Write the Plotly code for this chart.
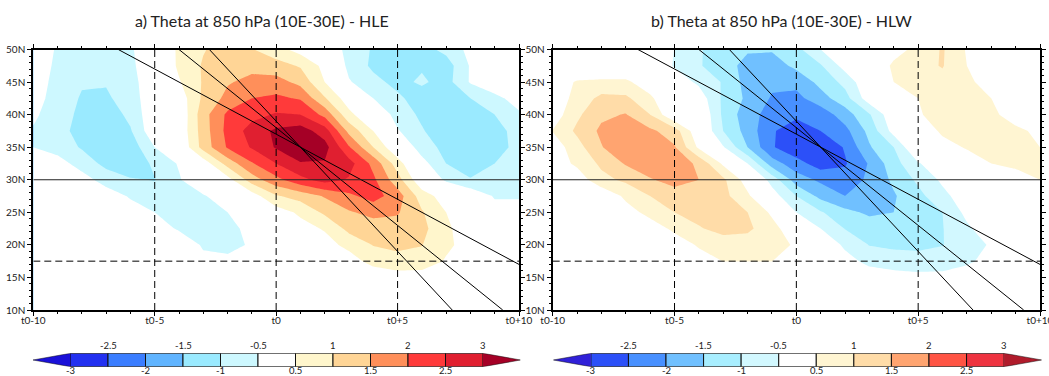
import plotly.graph_objects as go

W, H = 1049, 376
days = list(range(-10, 11))
lats = [10, 12.5, 15, 17.5, 20, 22.5, 25, 27.5, 30, 32.5, 35, 37.5, 40, 42.5, 45, 47.5, 50]
x_ticks = [-10, -5, 0, 5, 10]
x_tick_text = ["t0-10", "t0-5", "t0", "t0+5", "t0+10"]
y_ticks = [10, 15, 20, 25, 30, 35, 40, 45, 50]
y_tick_text = ["10N", "15N", "20N", "25N", "30N", "35N", "40N", "45N", "50N"]

# one row per latitude (south to north), one value per day from t0-10 to t0+10
hle_theta = [
 [0]*21,
 [0]*21,
 [0,0,0,0,0,0,0,0,0,0,0,0,0,0,.1,.25,.25,.1,0,0,0],
 [0,0,0,0,0,0,-.1,-.4,-.3,-.1,0,0,0,.25,.7,.85,.8,.45,.15,0,0],
 [0,0,0,0,0,0,-.2,-.55,-.75,-.4,-.05,.1,.3,.65,1.02,1.1,1.02,.6,.3,.05,0],
 [0,0,0,0,0,-.3,-.55,-.7,-.7,-.3,0,.3,.55,1.15,1.25,1.3,1.15,.6,.2,0,-.05],
 [0,0,0,-.1,-.3,-.5,-.7,-.65,-.5,-.1,.25,.6,1.1,1.45,1.65,1.55,1.05,.5,.1,-.3,-.3],
 [0,0,-.05,-.25,-.55,-.8,-.85,-.55,-.2,.25,.95,1.2,1.55,1.9,2.2,1.75,.75,.25,-.1,-.55,-.55],
 [0,-.05,-.3,-.7,-.95,-1.02,-.55,-.05,.3,1.25,1.85,2.35,2.7,2.45,2.1,1.2,.1,-.6,-.95,-.85,-.65],
 [-.1,-.3,-.7,-1.15,-1.35,-.9,-.45,.2,1.2,1.95,2.5,2.95,2.95,2.7,1.85,.75,-.3,-1.0,-1.35,-1.0,-.75],
 [-.5,-.7,-1.05,-1.3,-1.3,-.5,0,1.2,2.05,2.55,3.05,3.5,3.2,2.05,1.0,.05,-.75,-1.15,-1.45,-1.2,-.85],
 [-.55,-.85,-1.15,-1.35,-1.05,-.1,.1,1.25,2.15,2.7,3.1,3.25,2.75,1.35,.5,-.45,-.95,-1.35,-1.45,-1.15,-.85],
 [-.4,-.8,-1.1,-1.3,-.87,-.1,.05,1.3,2.1,2.35,2.55,2.5,1.85,.65,0,-.7,-1.1,-1.4,-1.45,-1.0,-.55],
 [-.3,-.7,-1.05,-1.1,-.7,-.2,.2,1.1,1.65,2.0,2.1,1.95,1.05,.2,-.5,-.9,-1.25,-1.4,-1.0,-.6,-.35],
 [-.25,-.65,-.95,-.95,-.65,-.2,.45,1.05,1.45,1.65,1.7,1.35,.5,-.45,-.85,-1.15,-.92,-1.2,-.45,-.25,-.1],
 [-.2,-.6,-.75,-.8,-.6,-.15,.6,1.05,1.3,1.35,1.2,.95,.35,-.65,-1.1,-1.25,-1.06,-1.25,-.45,-.25,-.1],
 [-.2,-.55,-.7,-.75,-.55,-.2,.62,.97,1.2,1.03,.7,.3,0,-.7,-1.05,-1.2,-1.2,-.85,-.35,-.2,-.1],
]
hlw_theta = [
 [0]*21,
 [0]*21,
 [0,0,0,0,0,0,0,.15,.15,.1,0,0,0,-.2,-.3,-.35,-.35,-.2,0,0,0],
 [0,0,0,0,0,.1,.3,.51,.51,.51,.1,0,-.3,-.65,-.75,-.8,-.75,-.6,-.3,0,0],
 [0,0,0,0,0,.25,.55,.7,.75,.65,.45,-.05,-.6,-1.02,-1.1,-1.12,-1.02,-.7,-.45,-.1,0],
 [0,0,0,0,.25,.6,.95,1.2,1.1,.7,.1,-.5,-1.02,-1.2,-1.3,-1.3,-1.02,-.6,-.15,0,0],
 [0,0,0,.3,.65,1.0,1.2,1.2,1.0,.4,-.5,-.95,-1.35,-1.6,-1.5,-1.25,-1.0,-.35,-.1,0,0],
 [0,0,.1,.6,1.0,1.25,1.35,1.15,.6,-.25,-1.0,-1.65,-2.0,-1.85,-1.55,-1.15,-.65,-.2,-.05,.05,.1],
 [0,.2,.85,1.1,1.45,1.7,1.5,1.1,.25,-.7,-1.75,-2.1,-2.3,-1.9,-1.4,-.9,-.4,-.1,.1,.3,.5],
 [.2,.6,1.1,1.55,1.85,1.8,1.4,.4,-.5,-1.75,-2.3,-2.75,-2.55,-1.95,-1.2,-.55,-.1,.2,.5,.6,.65],
 [.2,.8,1.47,1.9,1.75,1.55,.4,-.45,-1.5,-2.45,-2.85,-2.95,-2.45,-1.55,-1.0,.1,.3,.55,.7,.7,.5],
 [.52,1.1,1.6,1.75,1.6,1.25,.1,-1.0,-1.7,-2.45,-2.75,-2.5,-2.15,-1.35,-.3,.1,.6,.75,.7,.6,.4],
 [.2,.9,1.4,1.53,1.0,0,.05,-1.1,-1.8,-2.2,-2.4,-2.3,-1.75,-1.05,-.1,.45,.7,.75,.6,.3,.2],
 [.2,.65,1.15,1.1,.6,-.05,-.2,-1.1,-1.6,-2.05,-2.15,-1.7,-1.2,-.2,.05,.5,.7,.85,.5,.25,.1],
 [.2,.55,.6,.6,.2,-.2,-.6,-1.05,-1.7,-1.9,-1.85,-1.35,-.85,-.05,.5,.7,.85,.6,.3,.15,.05],
 [0,0,0,0,0,-.55,-.95,-1.3,-1.65,-1.75,-1.38,-1.05,-.3,0,.6,.85,1.03,.5,.25,.1,.05],
 [0,0,0,0,0,-.51,-.95,-1.25,-1.45,-1.45,-1.15,-.5,-.15,.05,.3,.65,1.05,.45,.2,.1,.05],
]

# trough lines: latitude falls from 50N towards 10N as time advances
line_2deg_t = [-6.5, 10]
line_2deg_lat = [50, 17]
line_3deg_t = [-4, 9.33]
line_3deg_lat = [50, 10]
line_4deg_t = [-2.75, 7.25]
line_4deg_lat = [50, 10]
ref_lat_solid = 30
ref_lat_dashed = 17.5
ref_days = [-5, 0, 5]

cb_levels = ["-3", "-2.5", "-2", "-1.5", "-1", "-0.5", "0.5", "1", "1.5", "2", "2.5", "3"]

colors_a = ["#1a10d8", "#2230f0", "#3a7dff", "#60b4ff", "#9aeaff", "#cdf8ff", "#ffffff", "#ffffff",
            "#fff6cc", "#ffd596", "#ff8f5a", "#ff3a3a", "#e01f30", "#a50026"]
colors_b = ["#3020d8", "#2c50f8", "#4890ff", "#70c0ff", "#a8eeff", "#d2f8ff", "#ffffff", "#ffffff",
            "#fff5d2", "#ffdca8", "#ffa470", "#ff5444", "#ee3340", "#b01b2b"]
# colour-bar boxes skip the doubled white band
def box_colors(c):
    return c[1:7] + c[8:13]

FONT = "Lato"
px = lambda p: p / W
py = lambda p: (H - p) / H

panels = [
    dict(z=hle_theta, colors=colors_a, xa="x", ya="y", xd=[px(33.3), px(519)],
         cb_x="x3", cb_y="y3", cb_d=[px(33), px(520.5)], title="a) Theta at 850 hPa (10E-30E) - HLE", tx=261.5),
    dict(z=hlw_theta, colors=colors_b, xa="x2", ya="y2", xd=[px(552.7), px(1040)],
         cb_x="x4", cb_y="y4", cb_d=[px(553.3), px(1041.7)], title="b) Theta at 850 hPa (10E-30E) - HLW", tx=781),
]

fig = go.Figure()
layout = dict(template="none", width=W, height=H, margin=dict(l=0, r=0, t=0, b=0), paper_bgcolor="white",
              plot_bgcolor="white", showlegend=False, barmode="overlay", annotations=[])

for p in panels:
    n = len(p["colors"]) - 1
    fig.add_trace(go.Contour(x=days, y=lats, z=p["z"], xaxis=p["xa"], yaxis=p["ya"],
        autocontour=False, contours=dict(start=-3, end=3, size=0.5, coloring="fill", showlines=False),
        colorscale=[[i / n, c] for i, c in enumerate(p["colors"])], showscale=False,
        line=dict(width=0, smoothing=0), hoverinfo="skip"))
    style = dict(mode="lines", xaxis=p["xa"], yaxis=p["ya"], hoverinfo="skip")
    for t, la in ((line_2deg_t, line_2deg_lat), (line_3deg_t, line_3deg_lat), (line_4deg_t, line_4deg_lat)):
        fig.add_trace(go.Scatter(x=t, y=la, line=dict(color="black", width=1), **style))
    fig.add_trace(go.Scatter(x=[-10, 10], y=[ref_lat_solid] * 2, line=dict(color="#222222", width=1), **style))
    fig.add_trace(go.Scatter(x=[-10, 10], y=[ref_lat_dashed] * 2,
                             line=dict(color="black", width=1, dash="7px,4px"), **style))
    for d in ref_days:
        fig.add_trace(go.Scatter(x=[d, d], y=[10, 50], line=dict(color="black", width=1, dash="7px,4px"), **style))

    common = dict(showgrid=False, zeroline=False, showline=True, linecolor="black", linewidth=2,
                  mirror="ticks", ticks="outside", ticklen=4, tickwidth=1, tickcolor="black", automargin=False,
                  ticklabeloverflow="allow",
                  tickfont=dict(family=FONT, size=10, color="#222222"))
    xname = "xaxis" + p["xa"][1:]
    yname = "yaxis" + p["ya"][1:]
    layout[xname] = dict(domain=p["xd"], range=[-10, 10], anchor=p["ya"], tickmode="array",
                         tickvals=x_ticks, ticktext=x_tick_text, ticklabelstandoff=-4,
                         minor=dict(tickvals=days, ticks="outside", ticklen=2, tickwidth=1, tickcolor="black"), **common)
    layout[yname] = dict(domain=[py(310), py(49.5)], range=[10, 50], anchor=p["xa"], tickmode="array",
                         tickvals=y_ticks, ticktext=y_tick_text,
                         minor=dict(dtick=1, ticks="outside", ticklen=2, tickwidth=1, tickcolor="black"), **common)

    # colour bar: boxes on an index axis, one box between successive levels
    boxes = box_colors(p["colors"])
    idx = list(range(len(boxes)))
    fig.add_trace(go.Bar(x=[1] * len(boxes), y=[0] * len(boxes), base=idx, orientation="h", width=1,
                         marker=dict(color=boxes, line=dict(color="#111111", width=1)),
                         xaxis=p["cb_x"], yaxis=p["cb_y"], hoverinfo="skip"))
    for tx, ty, c in (([0, -1, 0], [-.5, 0, .5], p["colors"][0]), ([11, 12, 11], [-.5, 0, .5], p["colors"][-1])):
        fig.add_trace(go.Scatter(x=tx, y=ty, mode="lines", fill="toself", fillcolor=c,
                                 line=dict(color="#111111", width=0.5), xaxis=p["cb_x"], yaxis=p["cb_y"], hoverinfo="skip"))
    hidden = dict(visible=False, showgrid=False, zeroline=False)
    layout["xaxis" + p["cb_x"][1:]] = dict(domain=p["cb_d"], range=[-1, 12], anchor=p["cb_y"], **hidden)
    layout["yaxis" + p["cb_y"][1:]] = dict(domain=[py(366.7), py(353.3)], range=[-.5, .5], anchor=p["cb_x"], **hidden)
    for i, lab in enumerate(cb_levels):
        layout["annotations"].append(dict(text=lab, x=i, xref=p["cb_x"], yref="paper",
            y=py(370) if i % 2 == 0 else py(345), showarrow=False, xanchor="center", yanchor="middle", borderpad=0,
            font=dict(family=FONT, size=9.5, color="#222222")))
    layout["annotations"].append(dict(text=p["title"], x=px(p["tx"]), y=py(20), xref="paper", yref="paper",
        showarrow=False, xanchor="center", yanchor="middle", font=dict(family=FONT, size=16, color="#222222")))

fig.update_layout(**layout)
fig.write_html("out.html", config=dict(displayModeBar=False),
               post_script="document.body.style.margin='0';document.body.style.overflow='hidden';")
